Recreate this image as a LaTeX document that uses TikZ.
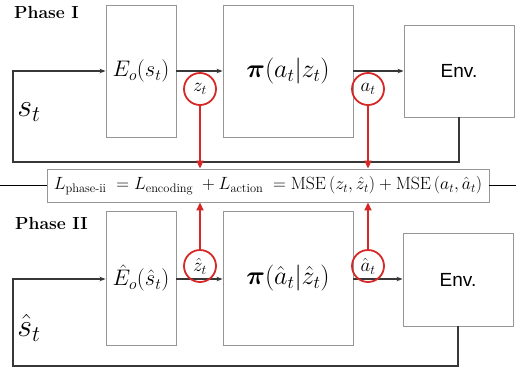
\RequirePackage{fix-cm}
\documentclass[tikz,border=0pt]{standalone}
\usepackage{amsmath}
\usepackage{fontspec}
\newfontfamily\envfont{Liberation Sans}
\usetikzlibrary{arrows.meta}
\definecolor{boxgray}{RGB}{150,150,150}
\definecolor{linegray}{RGB}{55,55,55}
\definecolor{redc}{RGB}{215,40,40}
\tikzset{
  blk/.style={draw=boxgray, line width=0.9pt, fill=white, inner sep=0pt},
  circ/.style={draw=redc, line width=1.8pt, circle, minimum size=32pt, inner sep=0pt, font=\fontsize{19}{22}\selectfont},
  conn/.style={draw=linegray, line width=1.1pt, -{Stealth[length=6pt,width=4.5pt]}},
  redarr/.style={draw=redc, line width=1.8pt, -{Triangle[length=8pt,width=7pt]}},
  lossbox/.style={draw=boxgray, line width=0.9pt, fill=white, minimum width=442pt, minimum height=33pt, inner sep=0pt, font=\fontsize{17.7}{21}\selectfont},
  phase/.style={anchor=base west, font=\fontsize{17.5}{20}\selectfont\bfseries, inner sep=0pt},
  envtxt/.style={font=\envfont\fontsize{19}{22}\selectfont},
  bigs/.style={font=\fontsize{32}{36}\selectfont, inner sep=0pt}
}
\begin{document}
\begin{tikzpicture}[x=1pt,y=-1pt]
\useasboundingbox (0,0) rectangle (516,370);
% ---------- Phase I ----------
\node[phase] (ph1) at (14,18.5) {Phase I};
\node[blk, minimum width=70pt, minimum height=132pt, font=\fontsize{22.5}{26}\selectfont] (E1) at (141,71) {$E_o(s_t)$};
\node[blk, minimum width=130pt, minimum height=132pt, font=\fontsize{26}{30}\selectfont] (P1) at (288,71) {$\boldsymbol{\pi}(a_t|z_t)$};
\node[blk, minimum width=110pt, minimum height=92pt, envtxt] (V1) at (459,71) {Env.};
\coordinate (c1) at (13,162);
\node[bigs] (s1) at (29,112) {$s_t$};
\draw[conn] (E1.east) -- (P1.west);
\draw[conn] (P1.east) -- (V1.west);
\draw[conn] (V1.south) |- (c1) |- (E1.west);
% ---------- Loss ----------
\node[lossbox] (L) at (268,185.5) {$L_{\text{phase-ii}}\; = L_{\text{encoding}}\; + L_{\text{action}}\; = \mathrm{MSE}\,(z_t,\hat{z}_t) + \mathrm{MSE}\,(a_t,\hat{a}_t)$};
\coordinate (lL) at (0,185.5);
\coordinate (lR) at (516,185.5);
\draw[black, line width=1.1pt] (lL) -- (L.west);
\draw[black, line width=1.1pt] (L.east) -- (lR);
% ---------- Phase II ----------
\node[phase] (ph2) at (15,229.5) {Phase II};
\node[blk, minimum width=70pt, minimum height=134pt, font=\fontsize{22.5}{26}\selectfont] (E2) at (141,278) {$\hat{E}_o(\hat{s}_t)$};
\node[blk, minimum width=130pt, minimum height=134pt, font=\fontsize{26}{30}\selectfont] (P2) at (288,278) {$\boldsymbol{\pi}(\hat{a}_t|\hat{z}_t)$};
\node[blk, minimum width=110pt, minimum height=93pt, envtxt] (V2) at (458,279.5) {Env.};
\coordinate (c2) at (13,366);
\node[bigs] (s2) at (29,328) {$\hat{s}_t$};
\draw[conn] (E2.east |- 0,279) -- (P2.west |- 0,279);
\draw[conn] (P2.east |- 0,279) -- (V2.west |- 0,279);
\draw[conn] (V2.south) |- (c2) |- (E2.west |- 0,279);
% ---------- circles ----------
\node[circ] (z1) at (200,89) {$z_t$};
\node[circ] (a1) at (368,89) {$a_t$};
\node[circ] (z2) at (200,266) {$\hat{z}_t$};
\node[circ] (a2) at (368,266) {$\hat{a}_t$};
\draw[redarr] (z1) -- (z1 |- L.north);
\draw[redarr] (a1) -- (a1 |- L.north);
\draw[redarr] (z2) -- (z2 |- L.south);
\draw[redarr] (a2) -- (a2 |- L.south);
\end{tikzpicture}
\end{document}
